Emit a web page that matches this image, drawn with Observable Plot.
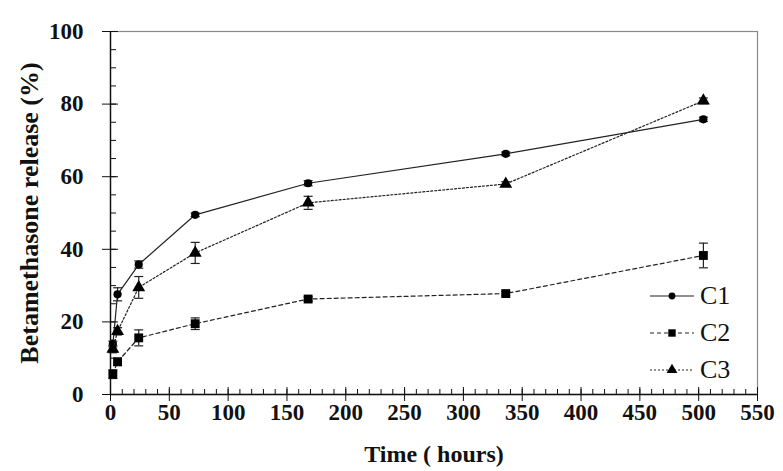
<!DOCTYPE html>
<html>
<head>
<meta charset="utf-8">
<script src="https://cdn.jsdelivr.net/npm/d3@7"></script>
<script src="https://cdn.jsdelivr.net/npm/@observablehq/plot@0.6"></script>
<style>
  html, body { margin: 0; padding: 0; background: #fff; }
  #wrap { position: relative; width: 783px; height: 471px; }
  .leg { position: absolute; left: 648px; font-family: 'Liberation Serif', 'Times New Roman', serif; font-size: 26px; color: #111; display: flex; align-items: center; }
  .leg svg { display: block; margin-right: 4px; }
</style>
</head>
<body>
<div id="wrap"></div>
<script>
// ---- data ----
const time = [2, 6, 24, 72, 168, 336, 504];
const seriesNames = ["C1", "C2", "C3"];
const c1 = [13.9, 27.6, 35.8, 49.5, 58.2, 66.3, 75.8];
const c1err = [0.8, 1.8, 1.0, 0.5, 0.7, 0.5, 0.6];
const c2 = [5.6, 9.0, 15.6, 19.5, 26.3, 27.8, 38.3];
const c2err = [1.2, 1.0, 2.2, 1.6, 0.6, 0.6, 3.4];
const c3 = [12.5, 17.4, 29.5, 39.0, 52.8, 58.0, 80.9];
const c3err = [1.0, 1.0, 3.0, 2.9, 1.8, 0.6, 0.8];
const xTicks = [0, 50, 100, 150, 200, 250, 300, 350, 400, 450, 500, 550];
const yTicks = [0, 20, 40, 60, 80, 100];
const xLabel = "Time ( hours)";
const yLabel = "Betamethasone release (%)";

const values = {C1: c1, C2: c2, C3: c3};
const errs = {C1: c1err, C2: c2err, C3: c3err};
const rows = seriesNames.flatMap(s => time.map((t, i) => ({
  series: s, t, v: values[s][i], lo: values[s][i] - errs[s][i], hi: values[s][i] + errs[s][i]
})));
const styles = {
  C1: {dash: null, symbol: "circle", r: 4.1},
  C2: {dash: "4,3", symbol: "square", r: 5},
  C3: {dash: "2,2", symbol: "triangle", r: 4.8}
};
const cap = {draw(ctx, size) { const w = 4.5; ctx.moveTo(-w, 0); ctx.lineTo(w, 0); }};
const minorX = d3.range(0, 551, 10);
const minorY = d3.range(0, 101, 5);
const FONT = "'Liberation Serif', 'Times New Roman', serif";

const marks = [
  Plot.frame({stroke: "#888", strokeWidth: 1.2}),
  // minor inward ticks
  Plot.axisX(minorX, {tickSize: -5, text: null, stroke: "#111", label: null}),
  Plot.axisY(minorY, {tickSize: -6, text: null, stroke: "#111", label: null}),
  // major ticks crossing the axis
  Plot.axisX(xTicks, {tickSize: -7, text: null, stroke: "#111", label: null}),
  Plot.axisY(yTicks, {tickSize: -8, text: null, stroke: "#111", label: null}),
  Plot.axisX(xTicks, {tickSize: 7, tickPadding: 2, stroke: "#111", fill: "#111", fontFamily: FONT, fontSize: 23, fontWeight: "bold", label: null}),
  Plot.axisY(yTicks, {tickSize: 8, tickPadding: 19, stroke: "#111", fill: "#111", fontFamily: FONT, fontSize: 23, fontWeight: "bold", label: null}),
  Plot.text([xLabel], {text: d => d, frameAnchor: "bottom", dy: 67, textAnchor: "middle", fontFamily: FONT, fontSize: 24, fontWeight: "bold", fill: "#111"}),
  Plot.text([yLabel], {text: d => d, frameAnchor: "left", dx: -81, rotate: -90, textAnchor: "middle", fontFamily: FONT, fontSize: 26, fontWeight: "bold", fill: "#111"}),
  Plot.ruleX([0], {stroke: "#111", strokeWidth: 1.4}),
  Plot.ruleY([0], {stroke: "#111", strokeWidth: 1.4}),
];
for (const s of seriesNames) {
  const d = rows.filter(r => r.series === s);
  const st = styles[s];
  marks.push(
    Plot.ruleX(d, {x: "t", y1: "lo", y2: "hi", stroke: "#222", strokeWidth: 1.2}),
    Plot.dot(d, {x: "t", y: "lo", symbol: cap, r: 4, stroke: "#222", strokeWidth: 1.2}),
    Plot.dot(d, {x: "t", y: "hi", symbol: cap, r: 4, stroke: "#222", strokeWidth: 1.2}),
    Plot.line(d, {x: "t", y: "v", stroke: "#222", strokeWidth: 1.2, strokeDasharray: st.dash}),
    Plot.dot(d, {x: "t", y: "v", symbol: st.symbol, r: st.r, fill: "#000", stroke: "none"})
  );
}

const chart = Plot.plot({
  width: 783,
  height: 471,
  marginLeft: 110,
  marginRight: 26,
  marginTop: 31,
  marginBottom: 77,
  style: {fontFamily: FONT, fontSize: "23px", fontWeight: "bold", color: "#111", background: "#fff"},
  x: {domain: [0, 550]},
  y: {domain: [0, 100]},
  marks
});
const wrap = document.getElementById("wrap");
wrap.appendChild(chart);

// legend (inside the plot area, lower right)
const legendY = {C1: 296, C2: 333, C3: 370};
for (const s of seriesNames) {
  const st = styles[s];
  const div = document.createElement("div");
  div.className = "leg";
  div.style.top = (legendY[s] - 16) + "px";
  const svg = d3.create("svg").attr("width", 48).attr("height", 32);
  svg.append("line").attr("x1", 2).attr("x2", 46).attr("y1", 16).attr("y2", 16)
    .attr("stroke", "#222").attr("stroke-width", 1.2).attr("stroke-dasharray", st.dash);
  const sym = {circle: d3.symbolCircle, square: d3.symbolSquare, triangle: d3.symbolTriangle}[st.symbol];
  const size = Math.PI * st.r * st.r;
  svg.append("path").attr("transform", "translate(24,16)")
    .attr("d", d3.symbol(sym, size * 0.7)()).attr("fill", "#000");
  div.appendChild(svg.node());
  const lab = document.createElement("span");
  lab.textContent = s;
  div.appendChild(lab);
  wrap.appendChild(div);
}
</script>
</body>
</html>
